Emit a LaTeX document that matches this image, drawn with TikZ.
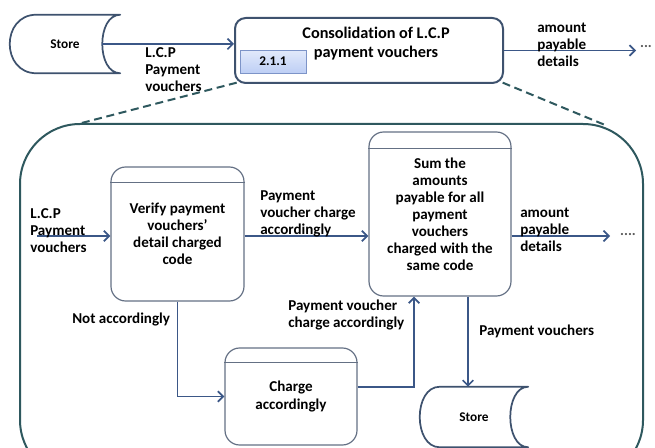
\documentclass[tikz,border=0pt]{standalone}
\usepackage{fontspec}
\setmainfont{Carlito}[Ligatures=NoCommon]
\usetikzlibrary{arrows.meta,positioning}

\definecolor{flowblue}{RGB}{59,87,135}
\definecolor{boxgray}{RGB}{100,112,132}
\definecolor{procline}{RGB}{62,82,110}
\definecolor{frameteal}{RGB}{46,88,94}
\definecolor{idfill}{RGB}{190,207,245}
\definecolor{idline}{RGB}{125,148,200}

% outline of a data store round the named node
\newcommand{\storeoutline}[2]{%
  \draw[draw=procline, line width=1.3pt, line join=round]
    ([xshift=#2]#1.north west) -- (#1.north east)
    .. controls ([xshift=-18pt]#1.north east) and ([xshift=-18pt]#1.south east) .. (#1.south east)
    -- ([xshift=#2]#1.south west)
    .. controls ([xshift=-#2/3]#1.south west) and ([xshift=-#2/3]#1.north west) .. ([xshift=#2]#1.north west);}

\begin{document}
\begin{tikzpicture}[x=0.75pt,y=-0.75pt,
  font=\bfseries\fontsize{11.3}{12.8}\selectfont,
  flow/.style={draw=flowblue, line width=1.3pt, -{Straight Barb[length=4pt,width=8pt]}},
  proc/.style={draw=boxgray, line width=0.9pt, rounded corners=11pt, align=center, inner sep=0pt},
  storebox/.style={inner sep=0pt, font=\bfseries\fontsize{10}{12}\selectfont},
  lbl/.style={align=left, anchor=north west, inner sep=0pt},
  dots/.style={inner sep=0pt, font=\bfseries\fontsize{11}{12}\selectfont, text=black!65}]
	\clip (0,0) rectangle (655,448);
	% detail frame
	\node (detail) [draw=frameteal, line width=1.5pt, rounded corners=45pt,
	  minimum width=467.25pt, minimum height=267pt] at (331.5,302) {};
	% top level
	\node (store1) [storebox, minimum width=82.5pt, minimum height=43.5pt] at (65,44) {Store};
	\storeoutline{store1}{20pt}
	\node (consol) [draw=procline, line width=1.5pt, rounded corners=8pt,
	  minimum width=201pt, minimum height=48.75pt] at (369,50.5) {};
	\node (consoltxt) [inner sep=0pt, align=center, font=\bfseries\fontsize{12.2}{14.3}\selectfont]
	  at (376,44) {Consolidation of L.C.P\\payment vouchers};
	\node (consolid) [draw=idline, top color=idfill!45!white, bottom color=idfill,
	  minimum width=49.5pt, minimum height=17pt, inner sep=0pt,
	  font=\bfseries\fontsize{10}{12}\selectfont] at (273,61.5) {2.1.1\hspace{14pt}};
	\coordinate (store1out) at ([xshift=-13.5pt]store1.east);
	\coordinate (topout) at (636,50);
	\draw[flow] (store1out) -- (store1out -| consol.west);
	\draw[flow] (consol.east) -- (consol.east -| topout);
	\node (lcptop) [lbl] at (145,47) {L.C.P\\Payment\\vouchers};
	\node (amttop) [lbl] at (537,23) {amount\\payable\\details};
	\node (dotstop) [dots] at (646,47) {...};
	% zoom lines
	\draw[draw=frameteal, line width=1.5pt, dash pattern=on 6pt off 3.5pt]
	  ([xshift=2pt,yshift=1pt]consol.south west) -- ([xshift=47pt]detail.north west);
	\draw[draw=frameteal, line width=1.5pt, dash pattern=on 6pt off 3.5pt]
	  ([xshift=-1pt,yshift=1pt]consol.south east) -- ([xshift=-28pt,yshift=-2pt]detail.north east);
	% detail level
	\node (verify) [proc, minimum width=99.75pt, minimum height=100.5pt] at (177.5,234)
	  {Verify payment\\vouchers’\\detail charged\\code};
	\node (sum) [proc, minimum width=106.5pt, minimum height=123pt] at (440,214)
	  {Sum the\\amounts\\payable for all\\payment\\vouchers\\charged with the\\same code};
	\node (charge) [proc, minimum width=99pt, minimum height=72.75pt] at (291,396.5)
	  {Charge\\accordingly};
	\foreach \b/\d in {verify/12pt, sum/12.75pt, charge/11.25pt}
	  \draw[draw=boxgray, line width=0.9pt] ([yshift=-\d]\b.north west) -- ([yshift=-\d]\b.north east);
	\node (store2) [storebox, minimum width=81pt, minimum height=45pt] at (474,417) {Store};
	\storeoutline{store2}{15pt}
	\coordinate (lcpin) at (37,236);
	\coordinate (amtout) at (610,236);
	\coordinate (chargeout) at ([yshift=7pt]charge.east);
	\coordinate (sumin) at ([xshift=-19.5pt]sum.south);
	\coordinate (store2in) at ([xshift=-4.5pt]store2.north);
	\draw[flow] (lcpin) -- (lcpin -| verify.west);
	\draw[flow] (lcpin -| verify.east) -- (lcpin -| sum.west);
	\draw[flow] (lcpin -| sum.east) -- (amtout);
	\draw[flow] (verify.south) |- (charge.west);
	\draw[flow] (chargeout) -| (sumin);
	\draw[flow] (sum.south -| store2in) -- (store2in);
	\node (lcplbl) [lbl] at (30,208) {L.C.P\\Payment\\vouchers};
	\node (oklbl) [lbl] at (260,190) {Payment\\voucher charge\\accordingly};
	\node (amtlbl) [lbl] at (520,208) {amount\\payable\\details};
	\node (notlbl) [lbl] at (72,313) {Not accordingly};
	\node (chargedlbl) [lbl] at (288,300) {Payment voucher\\charge accordingly};
	\node (pvlbl) [lbl] at (479,325) {Payment vouchers};
	\node (dotsin) [dots] at (628,235) {....};
\end{tikzpicture}
\end{document}
